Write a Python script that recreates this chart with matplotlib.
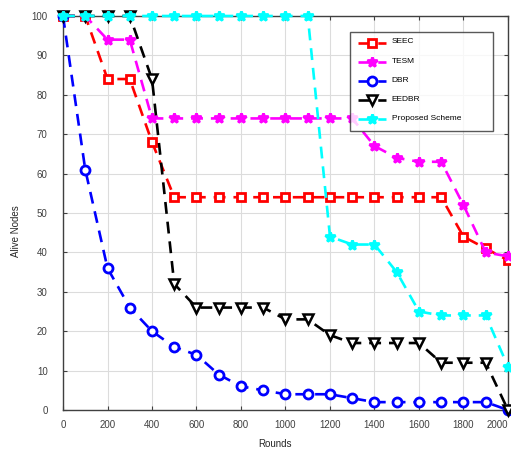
import matplotlib
matplotlib.use("Agg")
import matplotlib.pyplot as plt

plt.rcParams['font.family'] = ['Liberation Sans', 'DejaVu Sans']

rounds = [0, 100, 200, 300, 400, 500, 600, 700, 800, 900, 1000,
          1100, 1200, 1300, 1400, 1500, 1600, 1700, 1800, 1900, 2000]

seec = [100, 100, 84, 84, 68, 54, 54, 54, 54, 54, 54,
        54, 54, 54, 54, 54, 54, 54, 44, 41, 38]
tesm = [100, 100, 94, 94, 74, 74, 74, 74, 74, 74, 74,
        74, 74, 74, 67, 64, 63, 63, 52, 40, 39]
dbr = [100, 61, 36, 26, 20, 16, 14, 9, 6, 5, 4,
       4, 4, 3, 2, 2, 2, 2, 2, 2, 0]
eedbr = [100, 100, 100, 100, 84, 32, 26, 26, 26, 26, 23,
         23, 19, 17, 17, 17, 17, 12, 12, 12, 0]
proposed = [100, 100, 100, 100, 100, 100, 100, 100, 100, 100, 100,
            100, 44, 42, 42, 35, 25, 24, 24, 24, 11]

x_ticks = [0, 200, 400, 600, 800, 1000, 1200, 1400, 1600, 1800, 2000]
y_ticks = [0, 10, 20, 30, 40, 50, 60, 70, 80, 90, 100]

fig = plt.figure(figsize=(5.11, 4.53), dpi=100)
ax = fig.add_axes([0.1233, 0.0949, 0.8708, 0.8698])

lw = 1.9
dash = (4.5, 3)
common = dict(linestyle='--', dashes=dash, linewidth=lw, zorder=3, clip_on=False)
ax.plot(rounds, seec, color='red', marker='s', markersize=5.5,
        markerfacecolor='white', markeredgecolor='red', markeredgewidth=2.0,
        label='SEEC', **common)
ax.plot(rounds, tesm, color='magenta', marker='*', markersize=7.5,
        markerfacecolor='magenta', markeredgecolor='magenta', markeredgewidth=2.0,
        label='TESM', **common)
ax.plot(rounds, dbr, color='blue', marker='o', markersize=6.5,
        markerfacecolor='white', markeredgecolor='blue', markeredgewidth=2.0,
        label='DBR', **common)
ax.plot(rounds, eedbr, color='black', marker='v', markersize=7.5,
        markerfacecolor='white', markeredgecolor='black', markeredgewidth=1.8,
        label='EEDBR', **common)
ax.plot(rounds, proposed, color='cyan', marker='*', markersize=7.5,
        markerfacecolor='cyan', markeredgecolor='cyan', markeredgewidth=2.0,
        label='Proposed Scheme', **common)

ax.set_xlim(0, 2000)
ax.set_ylim(0, 100)
ax.set_xticks(x_ticks)
ax.set_yticks(y_ticks)
ax.grid(True, color='#dcdcdc', linewidth=0.8)
ax.set_axisbelow(True)
ax.tick_params(labelsize=7, colors='#404040', direction='in', length=3,
               top=True, right=True)
ax.tick_params(axis='x', pad=7)
ax.tick_params(axis='y', pad=11)
for s in ax.spines.values():
    s.set_color('#404040')
    s.set_linewidth(1.0)

# keep the last x tick label inside the figure
xlabels = ax.get_xticklabels()
xlabels[-1].set_horizontalalignment('right')
xlabels[-1].set_x(2000)

ax.set_xlabel('Rounds', fontsize=7, color='#262626')
ax.xaxis.set_label_coords(0.476, -0.074)
ax.set_ylabel('Alive Nodes', fontsize=7, color='#262626')
ax.yaxis.set_label_coords(-0.095, 0.455)

leg = ax.legend(loc='upper left', bbox_to_anchor=(0.645, 0.711, 0.321, 0.248),
                mode='expand', fontsize=6, frameon=True, fancybox=False,
                edgecolor='#303030', handlelength=3.4, handletextpad=0.7,
                labelspacing=1.35, borderpad=0.9, borderaxespad=0)
leg.get_frame().set_linewidth(1.0)
for t in leg.get_texts():
    t.set_va('bottom')

fig.savefig('out.png', dpi=100)
